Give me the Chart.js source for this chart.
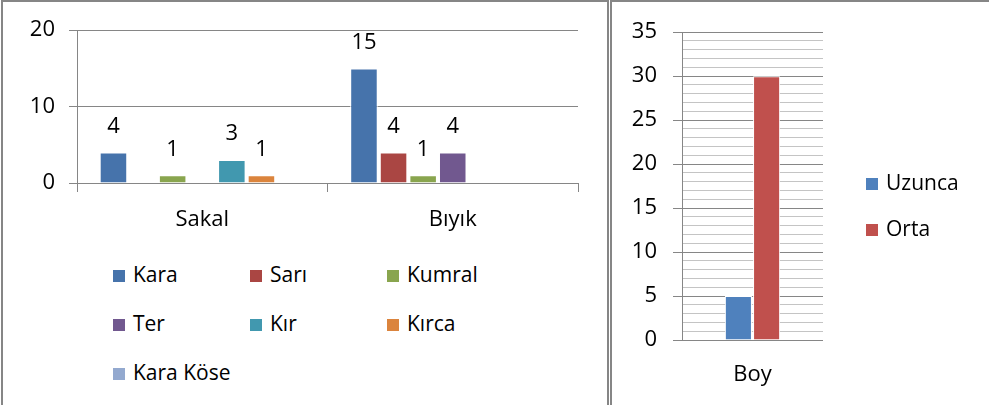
<!DOCTYPE html>
<html>
<head>
<meta charset="utf-8">
<script src="https://cdn.jsdelivr.net/npm/chart.js@4/dist/chart.umd.min.js"></script>
<style>
  body { margin: 0; background: #fff; font-family: "Open Sans", sans-serif; }
  #wrap { position: relative; width: 989px; height: 405px; overflow: hidden; }
  .box { position: absolute; top: 0; height: 430px; border: 2px solid #868686; box-sizing: border-box; }
  canvas { position: absolute; }
  .leg { position: absolute; font-size: 21px; color: #000; white-space: nowrap; line-height: 26px; }
  .leg span { display: inline-block; width: 12px; height: 12px; margin-right: 8px; vertical-align: 0px; }
</style>
</head>
<body>
<div id="wrap">
  <div class="box" style="left:1px; width:608px;"></div>
  <div class="box" style="left:610px; width:400px;"></div>
  <canvas id="sacChart" style="left:4px; top:3px;" width="600" height="245"></canvas>
  <canvas id="boyChart" style="left:613px; top:3px;" width="376" height="400"></canvas>
  <div id="legendSac"></div>
  <div id="legendBoy"></div>
</div>
<script>
// sol grafik: sakal / bıyık renkleri
const kategoriler = ['Sakal', 'Bıyık'];
const renkAdlari = ['Kara', 'Sarı', 'Kumral', 'Ter', 'Kır', 'Kırca', 'Kara Köse'];
const kara = [4, 15];
const sari = [0, 4];
const kumral = [1, 1];
const ter = [0, 4];
const kir = [3, 0];
const kirca = [1, 0];
const karaKose = [0, 0];
const solTikler = [0, 10, 20];

// sağ grafik: boy
const boyKategori = ['Boy'];
const boyAdlari = ['Uzunca', 'Orta'];
const uzunca = [5];
const orta = [30];
const sagTikler = [0, 5, 10, 15, 20, 25, 30, 35];

const renkler = ['#4673AB', '#AA4643', '#89A54E', '#71588F', '#4198AF', '#DB843D', '#93A9CF'];
const boyRenkler = ['#4F81BD', '#C0504D'];

const yazi = { family: '"Open Sans", sans-serif', size: 22 };

const degerEtiketleri = {
    id: 'degerEtiketleri',
    afterDatasetsDraw(chart) {
        const ctx = chart.ctx;
        ctx.save();
        ctx.font = '22px "Open Sans", sans-serif';
        ctx.fillStyle = '#000';
        ctx.textAlign = 'center';
        ctx.textBaseline = 'middle';
        chart.data.datasets.forEach((ds, i) => {
            chart.getDatasetMeta(i).data.forEach((bar, j) => {
                if (ds.data[j] > 0) {
                    ctx.fillText(ds.data[j], bar.x, bar.y - 26);
                }
            });
        });
        ctx.restore();
    }
};

function construirSac() {
    const seriler = [kara, sari, kumral, ter, kir, kirca, karaKose];
    const ctx = document.getElementById('sacChart').getContext('2d');
    new Chart(ctx, {
        type: 'bar',
        data: {
            labels: kategoriler,
            datasets: seriler.map((s, i) => ({
                label: renkAdlari[i],
                data: s,
                backgroundColor: renkler[i],
                borderColor: '#fff',
                borderWidth: 1,
                categoryPercentage: 0.827,
                barPercentage: 0.93
            }))
        },
        options: {
            responsive: false,
            animation: false,
            layout: { padding: { top: 27, right: 26, bottom: 5, left: 0 } },
            plugins: { legend: { display: false }, tooltip: { enabled: false } },
            scales: {
                x: {
                    afterFit: s => { s.height = 60; },
                    grid: { drawOnChartArea: false, tickLength: 9, color: '#868686', offset: true },
                    border: { display: false },
                    ticks: { color: '#000', font: yazi, padding: 15 }
                },
                y: {
                    min: 0,
                    max: 20,
                    afterFit: s => { s.width = 73; },
                    afterBuildTicks: s => { s.ticks = solTikler.map(v => ({ value: v })); },
                    grid: { color: '#868686', tickLength: 8 },
                    border: { color: '#868686' },
                    ticks: { color: '#000', font: yazi, padding: 14 }
                }
            }
        },
        plugins: [degerEtiketleri]
    });

    let html = '';
    renkAdlari.forEach((ad, i) => {
        const x = 113 + 137 * (i % 3);
        const y = 261 + 49 * Math.floor(i / 3);
        html += `<div class="leg" style="left:${x}px; top:${y}px;"><span style="background:${renkler[i]}"></span>${ad}</div>`;
    });
    document.getElementById('legendSac').innerHTML = html;
}

function construirBoy() {
    const seriler = [uzunca, orta];
    const ctx = document.getElementById('boyChart').getContext('2d');
    new Chart(ctx, {
        type: 'bar',
        data: {
            labels: boyKategori,
            datasets: seriler.map((s, i) => ({
                label: boyAdlari[i],
                data: s,
                backgroundColor: boyRenkler[i],
                borderColor: '#fff',
                borderWidth: 1,
                categoryPercentage: 0.4,
                barPercentage: 0.96
            }))
        },
        options: {
            responsive: false,
            animation: false,
            layout: { padding: { top: 28, right: 166, bottom: 3, left: 0 } },
            plugins: { legend: { display: false }, tooltip: { enabled: false } },
            scales: {
                x: {
                    afterFit: s => { s.height = 60; },
                    grid: { display: false, drawTicks: false },
                    border: { display: false },
                    ticks: { color: '#000', font: yazi, padding: 22 }
                },
                y: {
                    min: 0,
                    max: 35,
                    afterFit: s => { s.width = 69; },
                    ticks: {
                        stepSize: 1,
                        autoSkip: false,
                        color: '#000',
                        font: yazi,
                        padding: 16,
                        callback: v => sagTikler.includes(v) ? v : ''
                    },
                    grid: {
                        tickLength: 9,
                        color: c => sagTikler.includes(c.tick.value) ? '#868686' : '#c4c4c4',
                        tickColor: c => sagTikler.includes(c.tick.value) ? '#868686' : 'rgba(0,0,0,0)'
                    },
                    border: { color: '#868686' }
                }
            }
        }
    });

    let html = '';
    boyAdlari.forEach((ad, i) => {
        html += `<div class="leg" style="left:866px; top:${169 + 46 * i}px;"><span style="background:${boyRenkler[i]}"></span>${ad}</div>`;
    });
    document.getElementById('legendBoy').innerHTML = html;
}

construirSac();
construirBoy();
</script>
</body>
</html>
